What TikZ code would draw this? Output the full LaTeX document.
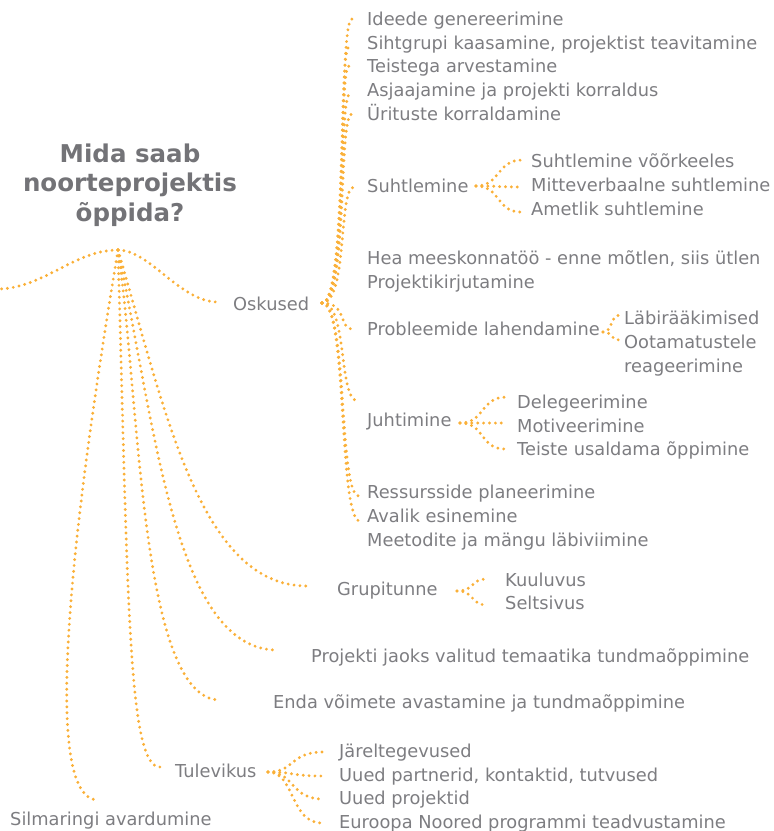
\documentclass[tikz,border=0pt]{standalone}
\usepackage{fontspec}
\setmainfont{DejaVu Sans}
\definecolor{txtgray}{RGB}{125,125,129}
\definecolor{titlegray}{RGB}{115,115,119}
\definecolor{dotorange}{RGB}{250,176,56}
\tikzset{
  txt/.style={inner sep=0pt, anchor=base west, text=txtgray, font=\fontsize{17.8}{23.8}\selectfont},
  titletxt/.style={inner sep=0pt, anchor=base, align=center, text=titlegray, font=\fontsize{24.5}{29.5}\selectfont\bfseries},
  link/.style={draw=dotorange, line width=3.2pt, line cap=round, dash pattern=on 0pt off 5.9pt},
}
\begin{document}
\begin{tikzpicture}[x=1pt,y=-1pt]
\useasboundingbox (0,0) rectangle (774,831);

% title (base anchor = baseline of the last line)
\node[titletxt] (title) at (130,221) {Mida saab\\noorteprojektis\\õppida?};
\coordinate (hub) at (118,250);
\coordinate (leftend) at (0,289);

% first level
\node[txt] (osk) at (233,310) {Oskused};
\node[txt] (grp) at (337,595) {Grupitunne};
\node[txt] (proj) at (311,662) {Projekti jaoks valitud temaatika tundmaõppimine};
\node[txt] (enda) at (273,708) {Enda võimete avastamine ja tundmaõppimine};
\node[txt] (tul) at (175,777) {Tulevikus};
\node[txt] (silm) at (10,825) {Silmaringi avardumine};

% Oskused children
\node[txt] (ideede) at (367,25) {Ideede genereerimine};
\node[txt] (siht) at (367,49) {Sihtgrupi kaasamine, projektist teavitamine};
\node[txt] (teis) at (367,72) {Teistega arvestamine};
\node[txt] (asja) at (367,96) {Asjaajamine ja projekti korraldus};
\node[txt] (urit) at (367,120) {Ürituste korraldamine};
\node[txt] (suht) at (367,192) {Suhtlemine};
\node[txt] (hea) at (367,264) {Hea meeskonnatöö - enne mõtlen, siis ütlen};
\node[txt] (pkir) at (367,288) {Projektikirjutamine};
\node[txt] (prob) at (367,335) {Probleemide lahendamine};
\node[txt] (juht) at (367,426) {Juhtimine};
\node[txt] (ress) at (367,498) {Ressursside planeerimine};
\node[txt] (aval) at (367,522) {Avalik esinemine};
\node[txt] (meet) at (367,546) {Meetodite ja mängu läbiviimine};

% Suhtlemine children
\node[txt] (sv) at (531,167) {Suhtlemine võõrkeeles};
\node[txt] (sm) at (531,191) {Mitteverbaalne suhtlemine};
\node[txt] (sa) at (531,215) {Ametlik suhtlemine};

% Probleemide children
\node[txt] (pl) at (624,324) {Läbirääkimised};
\node[txt, align=left] (po) at (624,372) {Ootamatustele\\reageerimine};

% Juhtimine children
\node[txt] (jd) at (517,408) {Delegeerimine};
\node[txt] (jm) at (517,432) {Motiveerimine};
\node[txt] (jt) at (517,455) {Teiste usaldama õppimine};

% Grupitunne children
\node[txt] (gk) at (505,586) {Kuuluvus};
\node[txt] (gs) at (505,609) {Seltsivus};

% Tulevikus children
\node[txt] (tj) at (339,757) {Järeltegevused};
\node[txt] (tu) at (339,781) {Uued partnerid, kontaktid, tutvused};
\node[txt] (tp) at (339,804) {Uued projektid};
\node[txt] (te) at (339,828) {Euroopa Noored programmi teadvustamine};

% connector end points
\coordinate (osk-in) at (218,302);
\coordinate (grp-in) at (307,586);
\coordinate (proj-in) at (277,650);
\coordinate (enda-in) at (220,700);
\coordinate (tul-in) at (160,767);
\coordinate (silm-in) at (98,800);

\coordinate (osk-out) at (322,303);
\coordinate (ideede-in) at (352,19);
\coordinate (siht-in) at (349,47);
\coordinate (teis-in) at (349,66);
\coordinate (asja-in) at (350,94);
\coordinate (urit-in) at (352,114);
\coordinate (suht-in) at (354,187);
\coordinate (prob-in) at (353,329);
\coordinate (juht-in) at (358,401);
\coordinate (ress-in) at (359,496);
\coordinate (aval-in) at (360,521);

\coordinate (suht-out) at (476,186);
\coordinate (sv-in) at (522,160);
\coordinate (sm-in) at (520,187);
\coordinate (sa-in) at (520,212);

\coordinate (prob-out) at (603,332);
\coordinate (pl-in) at (620,315);
\coordinate (po-in) at (620,340);

\coordinate (juht-out) at (460,423);
\coordinate (jd-in) at (507,397);
\coordinate (jm-in) at (507,423);
\coordinate (jt-in) at (505,449);

\coordinate (grp-out) at (457,591);
\coordinate (gk-in) at (487,579);
\coordinate (gs-in) at (487,605);

\coordinate (tul-out) at (268,772);
\coordinate (tj-in) at (323,752);
\coordinate (tu-in) at (323,776);
\coordinate (tp-in) at (323,799);
\coordinate (te-in) at (322,823);

% main connectors
\draw[link] (hub) .. controls (75,250) and (45,287) .. (leftend);
\draw[link] (hub) .. controls (150,250) and (180,302) .. (osk-in);
\draw[link] (hub) .. controls (165,410) and (200,586) .. (grp-in);
\draw[link] (hub) .. controls (155,425) and (175,650) .. (proj-in);
\draw[link] (hub) .. controls (140,400) and (140,700) .. (enda-in);
\draw[link] (hub) .. controls (128,600) and (128,767) .. (tul-in);
\draw[link] (hub) .. controls (90,420) and (30,800) .. (silm-in);

% Oskused connectors
\foreach \c/\y in {ideede-in/19, siht-in/47, teis-in/66, asja-in/94, urit-in/114, suht-in/187, prob-in/329, juht-in/401, ress-in/496, aval-in/521}
  \draw[link] (osk-out) .. controls (348,303) and (338,\y) .. (\c);

% Suhtlemine
\foreach \c/\y in {sv-in/160, sm-in/187, sa-in/212}
  \draw[link] (suht-out) .. controls (500,186) and (497,\y) .. (\c);

% Probleemide
\foreach \c/\y in {pl-in/315, po-in/340}
  \draw[link] (prob-out) .. controls (613,332) and (610,\y) .. (\c);

% Juhtimine
\foreach \c/\y in {jd-in/397, jm-in/423, jt-in/449}
  \draw[link] (juht-out) .. controls (485,423) and (480,\y) .. (\c);

% Grupitunne
\foreach \c/\y in {gk-in/579, gs-in/605}
  \draw[link] (grp-out) .. controls (475,591) and (470,\y) .. (\c);

% Tulevikus
\foreach \c/\y in {tj-in/752, tu-in/776, tp-in/799, te-in/823}
  \draw[link] (tul-out) .. controls (295,772) and (290,\y) .. (\c);
\end{tikzpicture}
\end{document}
